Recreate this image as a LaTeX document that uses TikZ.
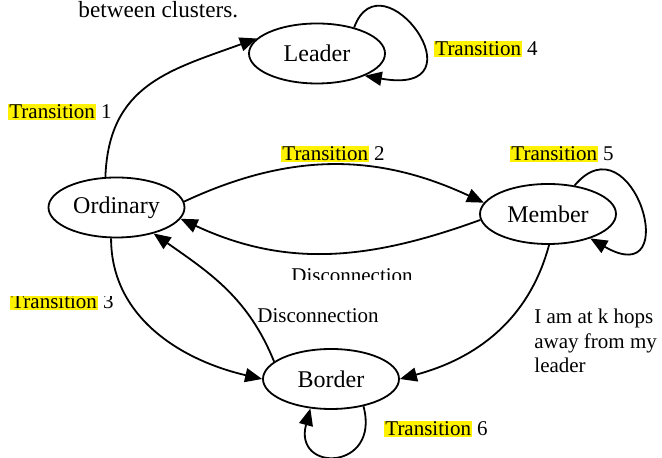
\documentclass[tikz,border=0pt]{standalone}
\usepackage{fontspec}
\setmainfont{Liberation Serif}
\usetikzlibrary{arrows.meta,shapes.geometric}
\setlength{\fboxsep}{0.5pt}
\newcommand{\hlword}[1]{\colorbox{yellow}{#1}}

\begin{document}
\begin{tikzpicture}[x=0.5pt, y=0.5pt,
	state/.style={draw, ellipse, line width=0.9pt, minimum width=68pt, minimum height=30pt, inner sep=0pt, font=\fontsize{12}{14}\selectfont},
	lbl/.style={anchor=base west, inner sep=0pt, font=\fontsize{10.5}{12.25}\selectfont},
	trans/.style={-{Triangle[length=8.5pt,width=7pt]}, line width=0.9pt}]
			%%%%% START %%%%%
			
			\useasboundingbox (0, 0) rectangle (662, 458);
			
			\node[lbl, font=\fontsize{11.6}{14}\selectfont] (note) at (78, 440) {between clusters.};
			
			\node[state] (leader) at (317, 404.5) {Leader};
			\node[state] (ord) at (116.5, 250.5) {Ordinary};
			\node[state] (member) at (548, 244) {Member};
			\node[state] (border) at (331, 79) {Border};
			
			\draw[trans] (ord.110) to[out=88, in=200, looseness=1.15] (leader.166);
			\draw[trans] (leader.35) to[out=70, in=-10, out distance=40pt, in distance=62pt] (leader.-25);
			
			\draw[trans] (ord.5) to[out=25, in=155] (member.170);
			\draw[trans] (member.185) to[out=200, in=-25] (ord.350);
			\draw[trans] (member.47) to[out=50, in=-30, out distance=45pt, in distance=55pt] (member.-30);
			
			\draw[trans] (ord.260) to[out=270, in=167] (border.180);
			\draw[trans] (border.163) to[out=112, in=-35] (ord.325);
			\draw[trans] (member.272) to[out=255, in=15] (border.0);
			\draw[trans] (border.-40) to[out=-75, in=255, out distance=33.5pt, in distance=33.5pt] (border.-125);
			
			\node[lbl] (t1) at (8, 339) {\hlword{Transition} 1};
			\node[lbl] (t2) at (281, 297) {\hlword{Transition} 2};
			\node[lbl] (t4) at (434, 402) {\hlword{Transition} 4};
			\node[lbl] (t5) at (510, 297) {\hlword{Transition} 5};
			\node[lbl] (t6) at (384, 22) {\hlword{Transition} 6};
			
			\begin{scope}
				\clip (0, 100) rectangle (200, 161);
				\node[lbl] (t3) at (10, 149) {\hlword{Transition} 3};
			\end{scope}
			\begin{scope}
				\clip (260, 178.5) rectangle (450, 210);
				\node[lbl] (disc1) at (291, 175) {Disconnection};
			\end{scope}
			
			\node[lbl] (disc2) at (257, 135) {Disconnection};
			\node[lbl, align=left, anchor=north west] (hops) at (534, 149) {I am at k hops\\away from my\\leader};
			
			%%%%% END %%%%%
\end{tikzpicture}
\end{document}
